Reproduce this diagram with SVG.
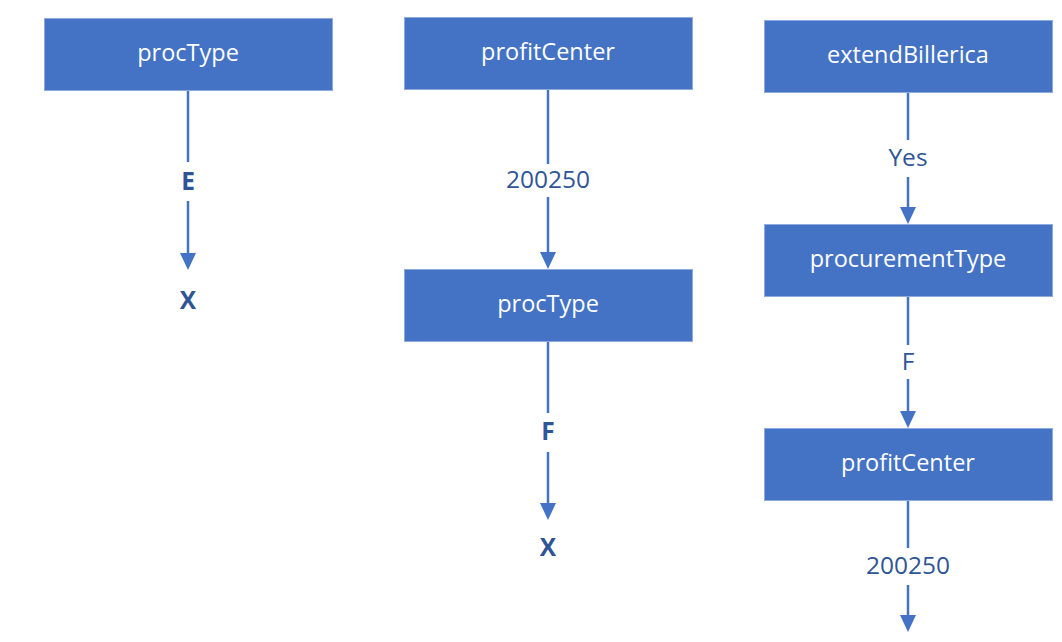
<svg xmlns="http://www.w3.org/2000/svg" width="1062" height="642" viewBox="0 0 1062 642">
<style>
.box{fill:#4472C4;stroke:#8FAADC;stroke-width:1}
.nt{fill:#fff;font-family:"Open Sans","Noto Sans",sans-serif;font-size:23.5px;text-anchor:middle;dominant-baseline:central}
.el{fill:#2F5597;font-family:"Open Sans","Noto Sans",sans-serif;font-size:24.5px;text-anchor:middle;dominant-baseline:central}
.b{font-weight:bold}
.ln{stroke:#4472C4;stroke-width:2.5;fill:none}
</style>
<rect width="1062" height="642" fill="#fff"/>
<g id="connectors">
<line class="ln" x1="188" y1="90" x2="188" y2="162"/>
<path d="M188,201 V253" class="ln"/><path d="M180,253 L196,253 L188,270 Z" fill="#4472C4"/>
<line class="ln" x1="548" y1="89" x2="548" y2="164"/>
<path d="M548,197 V252" class="ln"/><path d="M540,252 L556,252 L548,269 Z" fill="#4472C4"/>
<line class="ln" x1="548" y1="341" x2="548" y2="413"/>
<path d="M548,452 V503" class="ln"/><path d="M540,503 L556,503 L548,520 Z" fill="#4472C4"/>
<line class="ln" x1="908" y1="92" x2="908" y2="140"/>
<path d="M908,177 V207" class="ln"/><path d="M900,207 L916,207 L908,224 Z" fill="#4472C4"/>
<line class="ln" x1="908" y1="297" x2="908" y2="345"/>
<path d="M908,379 V411" class="ln"/><path d="M900,411 L916,411 L908,428 Z" fill="#4472C4"/>
<line class="ln" x1="908" y1="500" x2="908" y2="548"/>
<path d="M908,585 V615" class="ln"/><path d="M900,615 L916,615 L908,632 Z" fill="#4472C4"/>
<text class="el b" x="188" y="180">E</text>
<text class="el b" x="188" y="299">X</text>
<text class="el" x="548" y="178">200250</text>
<text class="el b" x="548" y="430">F</text>
<text class="el b" x="548" y="546">X</text>
<text class="el" x="908" y="156">Yes</text>
<text class="el" x="908" y="360">F</text>
<text class="el" x="908" y="564">200250</text>
</g>
<g id="n1"><rect class="box" x="44.5" y="18.5" width="288" height="72"/><text class="nt" x="188" y="52">procType</text></g>
<g id="n2"><rect class="box" x="404.5" y="17.5" width="288" height="72"/><text class="nt" x="548" y="51">profitCenter</text></g>
<g id="n3"><rect class="box" x="404.5" y="269.5" width="288" height="72"/><text class="nt" x="548" y="303">procType</text></g>
<g id="n4"><rect class="box" x="764.5" y="20.5" width="288" height="72"/><text class="nt" x="908" y="54">extendBillerica</text></g>
<g id="n5"><rect class="box" x="764.5" y="224.5" width="288" height="72"/><text class="nt" x="908" y="258">procurementType</text></g>
<g id="n6"><rect class="box" x="764.5" y="428.5" width="288" height="72"/><text class="nt" x="908" y="462">profitCenter</text></g>
</svg>
